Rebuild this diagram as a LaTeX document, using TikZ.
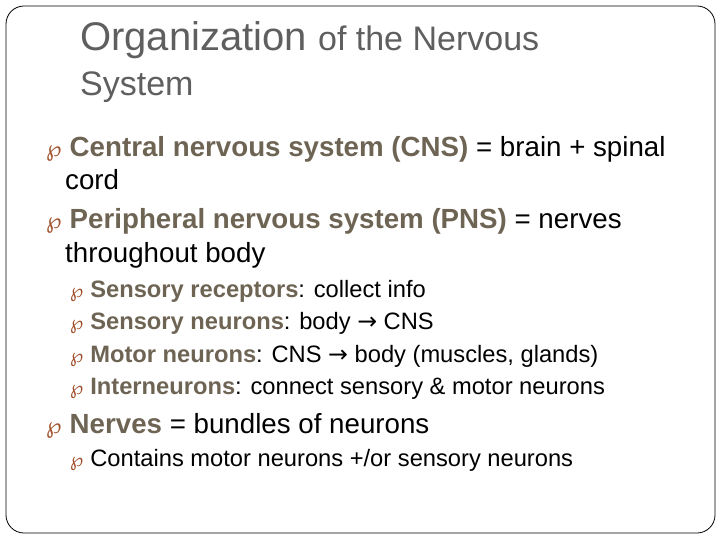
\documentclass[tikz,border=0pt]{standalone}
\usepackage{fontspec}
\setmainfont{Liberation Sans}
\newfontfamily\symf{DejaVu Sans}
\definecolor{boldc}{HTML}{6E6454}
\definecolor{titlec}{HTML}{5F5F5F}
\definecolor{bulc}{HTML}{A0522D}
\newcommand{\bul}{\makebox[0.85em][l]{\color{bulc}\symf\fontsize{0.8em}{1em}\selectfont ℘}}
\newcommand{\arr}{{\symf →}}
\begin{document}
\begin{tikzpicture}[x=1pt,y=-1pt,
  txt/.style={anchor=base west,inner sep=0pt,text=black},
  big/.style={txt,font=\fontsize{27.7}{32}\selectfont},
  small/.style={txt,font=\fontsize{23.7}{28}\selectfont}]
\useasboundingbox (0,0) rectangle (720,540);
\draw[black,line width=0.8pt,rounded corners=18pt] (6,6) rectangle (715,533);
\node[txt,text=titlec] (t1) at (80,51) {\fontsize{40}{46}\selectfont Organization \fontsize{34}{40}\selectfont of the Nervous};
\node[txt,text=titlec,font=\fontsize{34}{40}\selectfont] (t2) at (80,96) {System};
\node[big] (a1) at (46,157) {\bul\textcolor{boldc}{\textbf{Central nervous system (CNS)}} = brain + spinal};
\node[big] (a2) at (65,190) {cord};
\node[big] (b1) at (46,229) {\bul\textcolor{boldc}{\textbf{Peripheral nervous system (PNS)}} = nerves};
\node[big] (b2) at (65,262) {throughout body};
\node[small] (c1) at (70,297) {\bul\textcolor{boldc}{\textbf{Sensory receptors}}: collect info};
\node[small] (c2) at (70,329) {\bul\textcolor{boldc}{\textbf{Sensory neurons}}: body \arr{} CNS};
\node[small] (c3) at (70,362) {\bul\textcolor{boldc}{\textbf{Motor neurons}}: CNS \arr{} body (muscles, glands)};
\node[small] (c4) at (70,394) {\bul\textcolor{boldc}{\textbf{Interneurons}}: connect sensory \& motor neurons};
\node[big] (d1) at (46,433) {\bul\textcolor{boldc}{\textbf{Nerves}} = bundles of neurons};
\node[small] (e1) at (70,466) {\bul Contains motor neurons +/or sensory neurons};
\end{tikzpicture}
\end{document}
